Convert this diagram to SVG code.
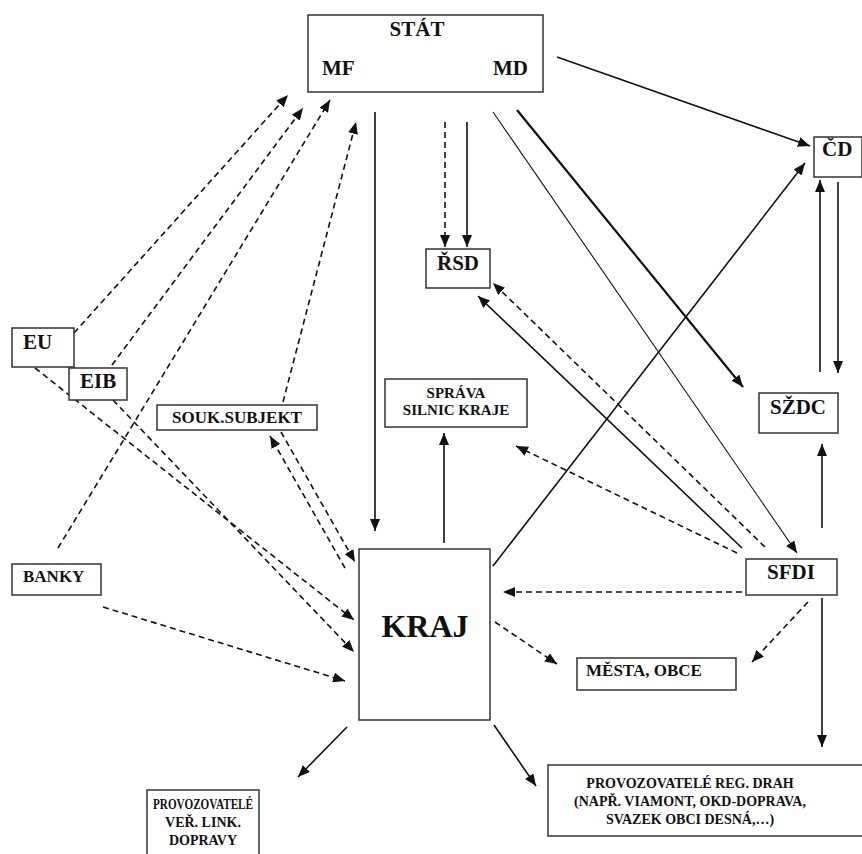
<svg xmlns="http://www.w3.org/2000/svg" width="862" height="854" viewBox="0 0 862 854">
<defs>
<style>
.b{fill:#fff;stroke:#333;stroke-width:1.5}
.t{font-family:"Liberation Serif","Times New Roman",serif;font-weight:bold;fill:#111}
.s{stroke:#111;stroke-width:1.6;fill:none;marker-end:url(#ah)}
.d{stroke:#111;stroke-width:1.6;fill:none;stroke-dasharray:6 4;marker-end:url(#ah)}
</style>
<marker id="ah" markerUnits="userSpaceOnUse" markerWidth="13" markerHeight="10" refX="12" refY="5" orient="auto">
<path d="M0,0 L12,5 L0,10 z" fill="#111"/>
</marker>
</defs>
<rect width="862" height="854" fill="#fff"/>
<g id="connectors">
<line class="s" x1="557" y1="57" x2="810" y2="146"/>
<line class="d" x1="445" y1="122" x2="445" y2="247"/>
<line class="s" x1="467" y1="122" x2="467" y2="247"/>
<line class="s" x1="375" y1="112" x2="375" y2="531"/>
<line class="s" x1="517" y1="110" x2="743" y2="387" style="stroke-width:2.2"/>
<line class="s" x1="493" y1="112" x2="797" y2="553" style="stroke-width:1.1"/>
<line class="s" x1="820" y1="372" x2="820" y2="180"/>
<line class="s" x1="838" y1="182" x2="838" y2="373"/>
<line class="s" x1="822" y1="528" x2="822" y2="444"/>
<line class="s" x1="822" y1="598" x2="822" y2="747"/>
<line class="d" x1="808" y1="602" x2="752" y2="662"/>
<line class="d" x1="742" y1="592" x2="503" y2="592"/>
<line class="d" x1="737" y1="553" x2="516" y2="446"/>
<line class="s" x1="742" y1="548" x2="478" y2="296"/>
<line class="d" x1="765" y1="547" x2="493" y2="283"/>
<line class="s" x1="444" y1="543" x2="444" y2="433"/>
<line class="s" x1="493" y1="566" x2="805" y2="163"/>
<line class="d" x1="495" y1="622" x2="557" y2="664"/>
<line class="s" x1="347" y1="727" x2="298" y2="777"/>
<line class="s" x1="494" y1="725" x2="536" y2="786"/>
<line class="d" x1="103" y1="607" x2="345" y2="681"/>
<line class="d" x1="35" y1="368" x2="354" y2="620"/>
<line class="d" x1="113" y1="400" x2="354" y2="652"/>
<line class="d" x1="74" y1="333" x2="288" y2="95"/>
<line class="d" x1="112" y1="365" x2="303" y2="108"/>
<line class="d" x1="58" y1="548" x2="330" y2="100"/>
<line class="d" x1="283" y1="402" x2="356" y2="122"/>
<line class="d" x1="345" y1="568" x2="270" y2="436"/>
<line class="d" x1="281" y1="432" x2="355" y2="562"/>
</g>
<g id="stat"><rect class="b" x="308" y="15" width="235" height="77"/>
<text class="t" x="417" y="36" font-size="21" text-anchor="middle">STÁT</text>
<text class="t" x="322" y="75" font-size="21">MF</text>
<text class="t" x="493" y="75" font-size="21">MD</text></g>
<g id="cd"><rect class="b" x="814" y="137" width="48" height="40"/>
<text class="t" x="822" y="156" font-size="21">ČD</text></g>
<g id="rsd"><rect class="b" x="426" y="249" width="64" height="39"/>
<text class="t" x="458" y="270" font-size="21" text-anchor="middle">ŘSD</text></g>
<g id="eu"><rect class="b" x="12" y="328" width="62" height="39"/>
<text class="t" x="23" y="349" font-size="21">EU</text></g>
<g id="eib"><rect class="b" x="69" y="368" width="58" height="32"/>
<text class="t" x="80" y="388" font-size="21">EIB</text></g>
<g id="souk"><rect class="b" x="157" y="405" width="160" height="25"/>
<text class="t" x="237" y="423" font-size="17" text-anchor="middle">SOUK.SUBJEKT</text></g>
<g id="sprava"><rect class="b" x="385" y="379" width="142" height="48"/>
<text class="t" x="456" y="398" font-size="15" text-anchor="middle">SPRÁVA</text>
<text class="t" x="456" y="415" font-size="15" text-anchor="middle">SILNIC KRAJE</text></g>
<g id="szdc"><rect class="b" x="759" y="393" width="79" height="40"/>
<text class="t" x="798" y="414" font-size="21" text-anchor="middle">SŽDC</text></g>
<g id="banky"><rect class="b" x="12" y="564" width="89" height="31"/>
<text class="t" x="23" y="582" font-size="17">BANKY</text></g>
<g id="kraj"><rect class="b" x="359" y="549" width="131" height="171"/>
<text class="t" x="425" y="637" font-size="32" text-anchor="middle">KRAJ</text></g>
<g id="sfdi"><rect class="b" x="746" y="559" width="91" height="36"/>
<text class="t" x="791" y="579" font-size="21" text-anchor="middle">SFDI</text></g>
<g id="mesta"><rect class="b" x="577" y="658" width="159" height="32"/>
<text class="t" x="586" y="676" font-size="17">MĚSTA, OBCE</text></g>
<g id="verlink"><rect class="b" x="147" y="790" width="112" height="70"/>
<text class="t" x="203" y="809" font-size="14" text-anchor="middle" textLength="100" lengthAdjust="spacingAndGlyphs">PROVOZOVATELÉ</text>
<text class="t" x="203" y="827" font-size="14" text-anchor="middle">VEŘ. LINK.</text>
<text class="t" x="203" y="845" font-size="14" text-anchor="middle">DOPRAVY</text></g>
<g id="regdrah"><rect class="b" x="548" y="765" width="320" height="71"/>
<text class="t" x="690" y="788" font-size="14" text-anchor="middle">PROVOZOVATELÉ REG. DRAH</text>
<text class="t" x="690" y="806" font-size="14" text-anchor="middle">(NAPŘ. VIAMONT, OKD-DOPRAVA,</text>
<text class="t" x="690" y="824" font-size="14" text-anchor="middle">SVAZEK OBCI DESNÁ,…)</text></g>
</svg>
